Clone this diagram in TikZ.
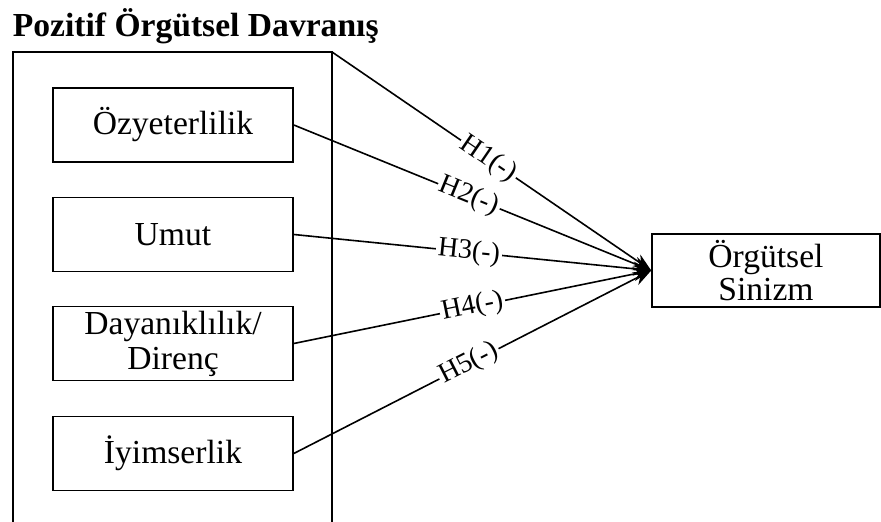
\documentclass[tikz,border=0pt]{standalone}
\usepackage{fontspec}
\setmainfont{Liberation Serif}
\usetikzlibrary{arrows.meta}

\begin{document}
\begin{tikzpicture}[%
        > = {Stealth[length = 9pt, width = 7pt]},
        line width = 0.8pt,
        x = 0.5pt,
        y = -0.5pt,
        dim/.style = {draw, rectangle, minimum width = 120pt,
            minimum height = 37pt, align = center, inner sep = 1pt,
            font = \fontsize{16.8}{17.5}\selectfont},
        result/.style = {draw, rectangle, minimum width = 114pt,
            minimum height = 36.5pt, align = center, inner sep = 1pt,
            font = \fontsize{16.8}{16.5}\selectfont},
        hyp/.style = {pos = 0.49, sloped, fill = white, inner sep = 1pt,
            font = \fontsize{14}{14}\selectfont}
    ]

        % fixes the size of the page.
        \useasboundingbox (0, 0) rectangle (881, 522);

        % Heading above the outer box.
        \node[anchor = base west, inner sep = 0pt,
            font = \fontsize{16.8}{16.8}\selectfont\bfseries]
            (title) at (12, 37) {Pozitif Örgütsel Davranış};

        % Outer box, open at the bottom.
        \coordinate (outerNE) at (332, 52);
        \draw (13, 522) |- (outerNE) -- (332, 522);

        % Dimensions inside the outer box.
        \node[dim] (oz) at (173, 125) {Özyeterlilik};
        \node[dim] (umut) at (173, 234.5) {Umut};
        \node[dim] (direnc) at (173, 343.5) {Dayanıklılık/\\Direnç};
        \node[dim] (iyim) at (173, 453.5) {İyimserlik};

        % Outcome.
        \node[result] (sinizm) at (766, 270.5) {Örgütsel\\Sinizm};

        % Hypotheses.
        \draw[->] (outerNE) to node[hyp] {H1(-)} (sinizm.west);
        \draw[->] (oz.east) to node[hyp] {H2(-)} (sinizm.west);
        \draw[->] (umut.east) to node[hyp] {H3(-)} (sinizm.west);
        \draw[->] (direnc.east) to node[hyp, pos = 0.5] {H4(-)} (sinizm.west);
        \draw[->] (iyim.east) to node[hyp] {H5(-)} (sinizm.west);
    \end{tikzpicture}
\end{document}
